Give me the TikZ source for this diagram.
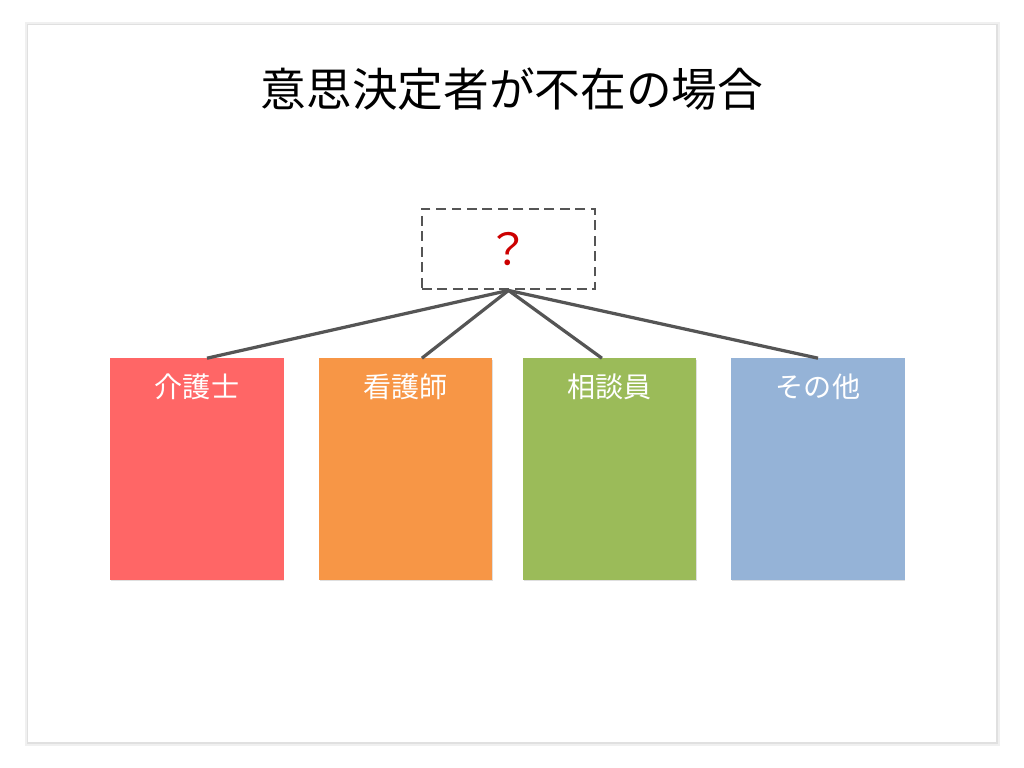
\documentclass[tikz,border=0pt]{standalone}
\usepackage{fontspec}
\newfontfamily\jpfont{Noto Sans CJK JP}
\usepackage{tikz}
\usetikzlibrary{positioning,shadows}
\usepackage{xcolor}
\definecolor{rolered}{HTML}{FF6666}
\definecolor{roleorange}{HTML}{F79646}
\definecolor{rolegreen}{HTML}{9BBB59}
\definecolor{roleblue}{HTML}{95B3D7}
\definecolor{linkgray}{HTML}{555555}

\begin{document}
\begin{tikzpicture}[
    x=0.025cm, y=-0.025cm,
    role/.style={rectangle, fill=#1, minimum width=4.325cm, minimum height=5.525cm, inner sep=0pt,
        drop shadow={shadow xshift=0.4pt, shadow yshift=-1.2pt, opacity=0.25}},
    roletext/.style={font=\jpfont\fontsize{20}{24}\selectfont, text=white, inner sep=0pt},
    unknown/.style={rectangle, draw=linkgray, line width=2pt, dash pattern=on 7pt off 4pt,
        minimum width=4.325cm, minimum height=2cm, font=\jpfont\fontsize{31}{36}\selectfont, text=red!80!black},
    link/.style={draw=linkgray, line width=2.3pt}
]
    \useasboundingbox (0,0) rectangle (1024,768);
    \fill[white] (0,0) rectangle (1024,768);

    % slide
    \fill[black!6] (25,22) rectangle (1000,746);
    \fill[black!12] (27,24) rectangle (998,744);
    \fill[white] (28,25) rectangle (996,742);

    \node[font=\jpfont\fontsize{32.5}{38}\selectfont] (title) at (512,89) {意思決定者が不在の場合};

    \node[unknown] (who) at (508.5,249) {？};

    \node[role=rolered] (kaigo) at (197,469) {};
    \node[role=roleorange] (kango) at (405.5,469) {};
    \node[role=rolegreen] (sodan) at (609.5,469) {};
    \node[role=roleblue] (other) at (818,469) {};

    \node[roletext] at ([yshift=-0.725cm]kaigo.north) {介護士};
    \node[roletext] at ([yshift=-0.725cm]kango.north) {看護師};
    \node[roletext] at ([yshift=-0.725cm]sodan.north) {相談員};
    \node[roletext] at ([yshift=-0.725cm]other.north) {その他};

    % links from the unknown decision maker
    \draw[link] (who.south) -- ([xshift=0.25cm]kaigo.north);
    \draw[link] (who.south) -- ([xshift=0.41cm]kango.north);
    \draw[link] (who.south) -- ([xshift=-0.19cm]sodan.north);
    \draw[link] (who.south) -- (other.north);
\end{tikzpicture}
\end{document}
